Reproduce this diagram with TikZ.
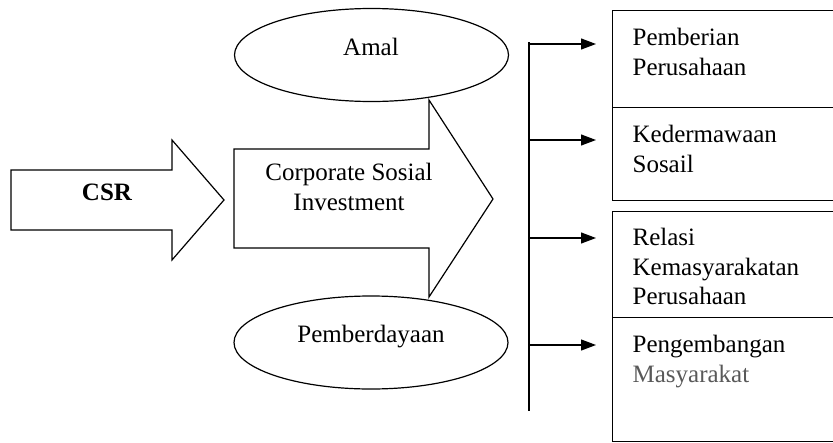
\documentclass[tikz,border=0pt]{standalone}
\usepackage{fontspec}
\setmainfont{Liberation Serif}
\usetikzlibrary{shapes.geometric,arrows.meta}
\newcommand\firstln{\rule{0pt}{18pt}}
\begin{document}
\begin{tikzpicture}[x=1pt,y=-1pt,line width=1.2pt,
  txt/.style={font=\fontsize{25}{29.5}\selectfont,inner sep=0pt},
  boxtxt/.style={txt,align=left,anchor=north west},
  oval/.style={ellipse,draw,fill=white,minimum width=274pt,minimum height=93pt,inner sep=0pt},
  panel/.style={draw,anchor=north west,minimum width=400pt,inner sep=0pt},
  tip/.style={-{Triangle[length=15pt,width=11pt]}},
  bigarrow/.style={draw,fill=white,line join=miter}]
\useasboundingbox (0,0) rectangle (833,442);
\clip (0,0) rectangle (833,442);
% CSR arrow
\draw[bigarrow] (11,170) -- (172,170) -- (172,140) -- (224,200) -- (172,260) -- (172,230) -- (11,230) -- cycle;
\node[txt,font=\fontsize{25}{29.5}\selectfont\bfseries,anchor=base] (csr) at (107,200) {CSR};
% Corporate Sosial Investment arrow
\draw[bigarrow] (234,149) -- (429,149) -- (429,100) -- (493,199) -- (429,297) -- (429,248) -- (234,248) -- cycle;
\node[txt,align=center,anchor=north] (csi) at (349,162) {\firstln Corporate Sosial\\Investment};
% ellipses
\node[oval] (amal) at (371.5,55) {};
\node[txt,anchor=base] (amaltxt) at (371,55) {Amal};
\node[oval] (pemb) at (371,342.5) {};
\node[txt,anchor=base] (pembtxt) at (371,342) {Pemberdayaan};
% boxes
\node[panel,minimum height=97pt] (b1) at (612,10) {};
\node[panel,minimum height=93pt] (b2) at (612,107) {};
\node[panel,minimum height=106pt] (b3) at (612,211) {};
\node[panel,minimum height=124pt] (b4) at (612,317) {};
\node[boxtxt] (t1) at (632,27) {\firstln Pemberian\\Perusahaan};
\node[boxtxt] (t2) at (632,124) {\firstln Kedermawaan\\Sosail};
\node[boxtxt] (t3) at (632,227) {\firstln Relasi\\Kemasyarakatan\\Perusahaan};
\node[boxtxt] (t4) at (632,334) {\firstln Pengembangan\\\textcolor{black!65}{Masyarakat}};
% distribution line
\coordinate (vtop) at (529,42);
\coordinate (vbot) at (529,411);
\draw (vtop) -- (vbot);
\foreach \i/\y in {1/44,2/140,3/238,4/345}{
  \coordinate (s\i) at (529,\y);
  \coordinate (e\i) at (596,\y);
  \draw[tip] (s\i) -- (e\i);
}
\end{tikzpicture}
\end{document}
